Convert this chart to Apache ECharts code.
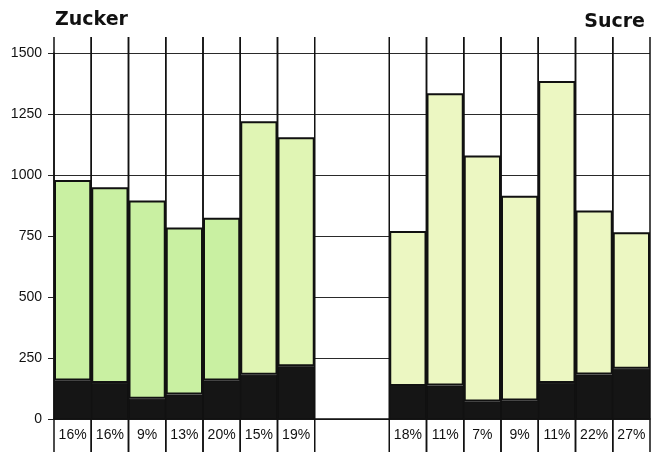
<!DOCTYPE html>
<html>
<head>
<meta charset="utf-8">
<script src="https://cdn.jsdelivr.net/npm/echarts@6/dist/echarts.min.js"></script>
<style>
  html, body { margin: 0; padding: 0; background: #fff; }
  #chart { width: 658px; height: 452px; }
</style>
</head>
<body>
<div id="chart"></div>
<script>
"use strict";

// two groups of seven, two empty slots in between
const shares = ['16%', '16%', '9%', '13%', '20%', '15%', '19%', '', '',
                '18%', '11%', '7%', '9%', '11%', '22%', '27%'];
const totals = [980, 950, 895, 785, 825, 1220, 1155, null, null,
                770, 1335, 1080, 915, 1385, 855, 765];
const base = [158, 148, 83, 100, 158, 181, 216, null, null,
              135, 137, 72, 76, 148, 182, 206];
const yTicks = [0, 250, 500, 750, 1000, 1250, 1500];

const upper = totals.map((t, i) => t == null ? null : t - base[i]);

function fillFor(i) {
  if (i < 5) return '#c9f0a2';
  if (i < 7) return '#e0f5b4';
  return '#ecf7c2';
}

const chart = echarts.init(document.getElementById('chart'), null, { renderer: 'canvas' });

const option = {
  animation: false,
  backgroundColor: '#fff',
  title: [
    {
      text: 'Zucker', left: 50, top: 6,
      textStyle: { fontFamily: 'DejaVu Sans', fontWeight: 'bold', fontSize: 19, color: '#111' }
    },
    {
      text: 'Sucre', right: 8, top: 8,
      textStyle: { fontFamily: 'DejaVu Sans', fontWeight: 'bold', fontSize: 19, color: '#111' }
    }
  ],
  grid: { left: 54, right: 8, top: 53, bottom: 33 },
  xAxis: {
    type: 'category',
    data: shares,
    boundaryGap: true,
    axisLine: { lineStyle: { color: '#111', width: 1.5 } },
    axisTick: { show: false },
    splitLine: { show: false },
    axisLabel: {
      interval: 0, margin: 9,
      fontFamily: 'Liberation Sans', fontSize: 14, color: '#111'
    }
  },
  yAxis: {
    type: 'value',
    min: yTicks[0],
    max: yTicks[yTicks.length - 1],
    interval: 250,
    axisLine: { show: true, lineStyle: { color: '#111', width: 1.5 } },
    axisTick: { show: true, length: 6, lineStyle: { color: '#222' } },
    splitLine: { show: true, lineStyle: { color: '#2a2a2a', width: 1 } },
    axisLabel: {
      margin: 12,
      formatter: v => String(v),
      fontFamily: 'Liberation Sans', fontSize: 14, color: '#111'
    }
  },
  series: [
    {
      name: 'base',
      type: 'bar',
      stack: 'a',
      barWidth: '100%',
      data: base,
      itemStyle: { color: '#151515', borderColor: '#111', borderWidth: 1 },
      z: 2
    },
    {
      name: 'rest',
      type: 'bar',
      stack: 'a',
      barWidth: '100%',
      data: upper.map((v, i) => ({
        value: v,
        itemStyle: { color: fillFor(i) }
      })),
      itemStyle: { borderColor: '#111', borderWidth: 2 },
      z: 2
    },
    {
      // cell dividers, running above the top line and down through the labels
      name: 'cells',
      type: 'custom',
      data: shares.map((s, i) => s ? [i, 0] : null).filter(d => d),
      clip: false,
      silent: true,
      z: 5,
      renderItem: function (params, api) {
        const cs = params.coordSys;
        const cx = api.coord([api.value(0), 0])[0];
        const w = api.size([1, 0])[0];
        const y1 = cs.y - 16;
        const y2 = cs.y + cs.height + 33;
        const style = { stroke: '#111', lineWidth: 1.5 };
        return {
          type: 'group',
          children: [
            { type: 'line', shape: { x1: cx - w / 2, y1: y1, x2: cx - w / 2, y2: y2 }, style: style },
            { type: 'line', shape: { x1: cx + w / 2, y1: y1, x2: cx + w / 2, y2: y2 }, style: style }
          ]
        };
      }
    }
  ]
};

chart.setOption(option);
</script>
</body>
</html>
